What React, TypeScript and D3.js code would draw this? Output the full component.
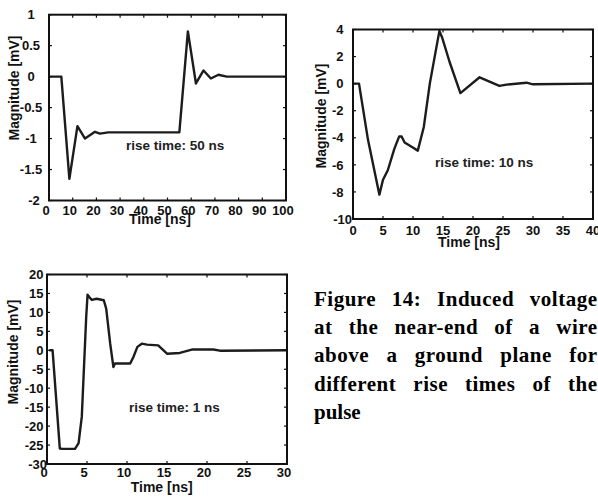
import React, { useEffect, useRef } from "react";
import * as d3 from "d3";

// ---- data ----
const time50 = [0, 5.2, 8.6, 12, 15.2, 19.4, 21.5, 25, 40, 55, 58.6, 62, 65.2, 68.3, 71.5, 75, 100];
const volt50 = [0, 0, -1.65, -0.8, -1.0, -0.89, -0.92, -0.9, -0.9, -0.9, 0.73, -0.11, 0.1, -0.03, 0.03, 0, 0];

const time10 = [0, 1, 2.5, 4.4, 5, 5.8, 6.9, 7.7, 8.1, 8.6, 9.7, 10.8, 11.8, 12.8, 14.4, 14.9, 16.1, 17.9, 21.1, 24.4, 25.6, 28.9, 30, 40];
const volt10 = [0, 0, -4.15, -8.2, -7.1, -6.4, -4.8, -3.9, -3.9, -4.35, -4.65, -4.95, -3.2, 0, 3.9, 3.35, 1.6, -0.7, 0.47, -0.17, -0.07, 0.07, -0.05, 0];

const time1 = [0.3, 0.7, 1.6, 1.9, 3.5, 3.95, 4.35, 4.9, 5.07, 5.3, 5.6, 6.2, 7.1, 7.4, 7.9, 8.3, 8.5, 8.9, 10.4, 10.8, 11.3, 11.85, 12.5, 13.9, 15, 16.6, 18.1, 20.8, 21.6, 30];
const volt1 = [0, 0, -25.9, -26, -26, -24.5, -17.5, 8.8, 14.7, 14, 13.3, 13.6, 13.2, 11, 1.75, -4.4, -3.5, -3.5, -3.5, -1.75, 0.9, 1.75, 1.5, 1.3, -0.9, -0.7, 0.2, 0.2, -0.1, 0];

const xTicks50 = [0, 10, 20, 30, 40, 50, 60, 70, 80, 90, 100];
const yTicks50 = [-2, -1.5, -1, -0.5, 0, 0.5, 1];
const xTicks10 = [0, 5, 10, 15, 20, 25, 30, 35, 40];
const yTicks10 = [-10, -8, -6, -4, -2, 0, 2, 4];
const xTicks1 = [0, 5, 10, 15, 20, 25, 30];
const yTicks1 = [-30, -25, -20, -15, -10, -5, 0, 5, 10, 15, 20];

const labels50 = ["rise time: 50 ns"];
const labels10 = ["rise time: 10 ns"];
const labels1 = ["rise time: 1 ns"];

const yAxisTitle = "Magnitude [mV]";
const xAxisTitle = "Time [ns]";

const captionLines = [
  "Figure 14: Induced voltage",
  "at the near-end of a wire",
  "above a ground plane for",
  "different rise times of the",
  "pulse",
];

type Panel = {
  t: number[];
  v: number[];
  xTicks: number[];
  yTicks: number[];
  note: string;
  box: [number, number, number, number];
  yLabAnchor: string;
  yLabX: number;
  yLabBottomX: number;
  xLabCenterY: number;
  xLabShift: number;
  note_xy: [number, number];
  yTitle: [number, number];
  xTitle: [number, number];
};

const panels: Panel[] = [
  {
    t: time50, v: volt50, xTicks: xTicks50, yTicks: yTicks50, note: labels50[0],
    box: [49, 286, 14.7, 200.5], yLabAnchor: "middle", yLabX: 31, yLabBottomX: 34,
    xLabCenterY: 210, xLabShift: -3, note_xy: [126, 150], yTitle: [14, 88], xTitle: [160, 224],
  },
  {
    t: time10, v: volt10, xTicks: xTicks10, yTicks: yTicks10, note: labels10[0],
    box: [353, 593, 29.5, 219], yLabAnchor: "end", yLabX: 343.5, yLabBottomX: 352,
    xLabCenterY: 230, xLabShift: 0, note_xy: [435, 167], yTitle: [320.5, 116], xTitle: [469, 247],
  },
  {
    t: time1, v: volt1, xTicks: xTicks1, yTicks: yTicks1, note: labels1[0],
    box: [47, 287, 274.5, 464], yLabAnchor: "end", yLabX: 43.5, yLabBottomX: 47,
    xLabCenterY: 472, xLabShift: -3, note_xy: [129, 412], yTitle: [13, 352], xTitle: [161.7, 492],
  },
];

const SANS = "'Liberation Sans', Arial, Helvetica, sans-serif";
const SERIF = "'Liberation Serif', 'Times New Roman', Times, 'DejaVu Serif', serif";

export default function App() {
  const ref = useRef<SVGSVGElement | null>(null);

  useEffect(() => {
    const svg = d3.select(ref.current);
    svg.selectAll("*").remove();
    svg.append("rect").attr("width", 598).attr("height", 498).attr("fill", "#fff");

    panels.forEach((p) => {
      const [l, r, tp, b] = p.box;
      const xs = d3.scaleLinear().domain([p.xTicks[0], p.xTicks[p.xTicks.length - 1]]).range([l, r]);
      const ys = d3.scaleLinear().domain([p.yTicks[0], p.yTicks[p.yTicks.length - 1]]).range([b, tp]);
      const g = svg.append("g");

      const line = d3.line<number>().x((_, i) => xs(p.t[i])).y((d) => ys(d));
      g.append("path")
        .attr("d", line(p.v) as string)
        .attr("fill", "none")
        .attr("stroke", "#1c1c1c")
        .attr("stroke-width", 2.4)
        .attr("stroke-linejoin", "round");

      const tl = 3;
      p.xTicks.forEach((tk) => {
        const x = xs(tk);
        g.append("line").attr("x1", x).attr("x2", x).attr("y1", b).attr("y2", b - tl).attr("stroke", "#111").attr("stroke-width", 1.2);
        g.append("line").attr("x1", x).attr("x2", x).attr("y1", tp).attr("y2", tp + tl).attr("stroke", "#111").attr("stroke-width", 1.2);
        g.append("text")
          .attr("x", x + p.xLabShift)
          .attr("y", p.xLabCenterY + 4.7)
          .attr("text-anchor", "middle")
          .style("font-family", SANS)
          .attr("font-weight", "bold")
          .attr("font-size", 13)
          .attr("fill", "#111")
          .text(String(tk));
      });
      p.yTicks.forEach((tk, i) => {
        const y = ys(tk);
        g.append("line").attr("x1", l).attr("x2", l + tl).attr("y1", y).attr("y2", y).attr("stroke", "#111").attr("stroke-width", 1.2);
        g.append("line").attr("x1", r).attr("x2", r - tl).attr("y1", y).attr("y2", y).attr("stroke", "#111").attr("stroke-width", 1.2);
        g.append("text")
          .attr("x", i === 0 ? p.yLabBottomX : p.yLabX)
          .attr("y", y + 4.7)
          .attr("text-anchor", p.yLabAnchor)
          .style("font-family", SANS)
          .attr("font-weight", "bold")
          .attr("font-size", 13)
          .attr("fill", "#111")
          .text(String(tk));
      });

      g.append("rect")
        .attr("x", l).attr("y", tp).attr("width", r - l).attr("height", b - tp)
        .attr("fill", "none").attr("stroke", "#111").attr("stroke-width", 2);

      g.append("text")
        .attr("x", p.note_xy[0]).attr("y", p.note_xy[1])
        .style("font-family", SANS).attr("font-weight", "bold").attr("font-size", 13.5)
        .attr("fill", "#222").text(p.note);

      g.append("text")
        .attr("transform", `translate(${p.yTitle[0] + 5},${p.yTitle[1]}) rotate(-90)`)
        .attr("text-anchor", "middle")
        .style("font-family", SANS).attr("font-weight", "bold").attr("font-size", 14)
        .attr("fill", "#111").text(yAxisTitle);
      g.append("text")
        .attr("x", p.xTitle[0]).attr("y", p.xTitle[1])
        .attr("text-anchor", "middle")
        .style("font-family", SANS).attr("font-weight", "bold").attr("font-size", 14)
        .attr("fill", "#111").text(xAxisTitle);
    });

    // caption, justified
    const capL = 314, capR = 597.5, base0 = 306, lh = 28.2, fs = 21;
    const capG = svg.append("g");
    const layout = () => {
      capG.selectAll("*").remove();
      captionLines.forEach((ln, li) => {
        const words = ln.split(" ");
        const last = li === captionLines.length - 1;
        const y = base0 + li * lh;
        const nodes = words.map((w) =>
          capG.append("text")
            .attr("y", y)
            .style("font-family", SERIF)
            .style("font-weight", "bold")
            .style("font-size", fs + "px")
            .style("letter-spacing", last ? "0px" : "0.5px")
            .attr("fill", "#000").text(w)
        );
        const widths = nodes.map((n) => (n.node() as SVGTextElement).getComputedTextLength());
        const total = widths.reduce((a, c) => a + c, 0);
        const gap = last || words.length < 2 ? fs * 0.25 : (capR - capL - total) / (words.length - 1);
        let x = capL;
        nodes.forEach((n, i) => {
          n.attr("x", x);
          x += widths[i] + gap;
        });
      });
    };
    layout();
    if ((document as any).fonts && (document as any).fonts.ready) {
      (document as any).fonts.ready.then(layout);
    }
  }, []);

  return (
    <div style={{ position: "fixed", left: 0, top: 0 }}>
      <svg ref={ref} width={598} height={498} style={{ display: "block" }} />
    </div>
  );
}
